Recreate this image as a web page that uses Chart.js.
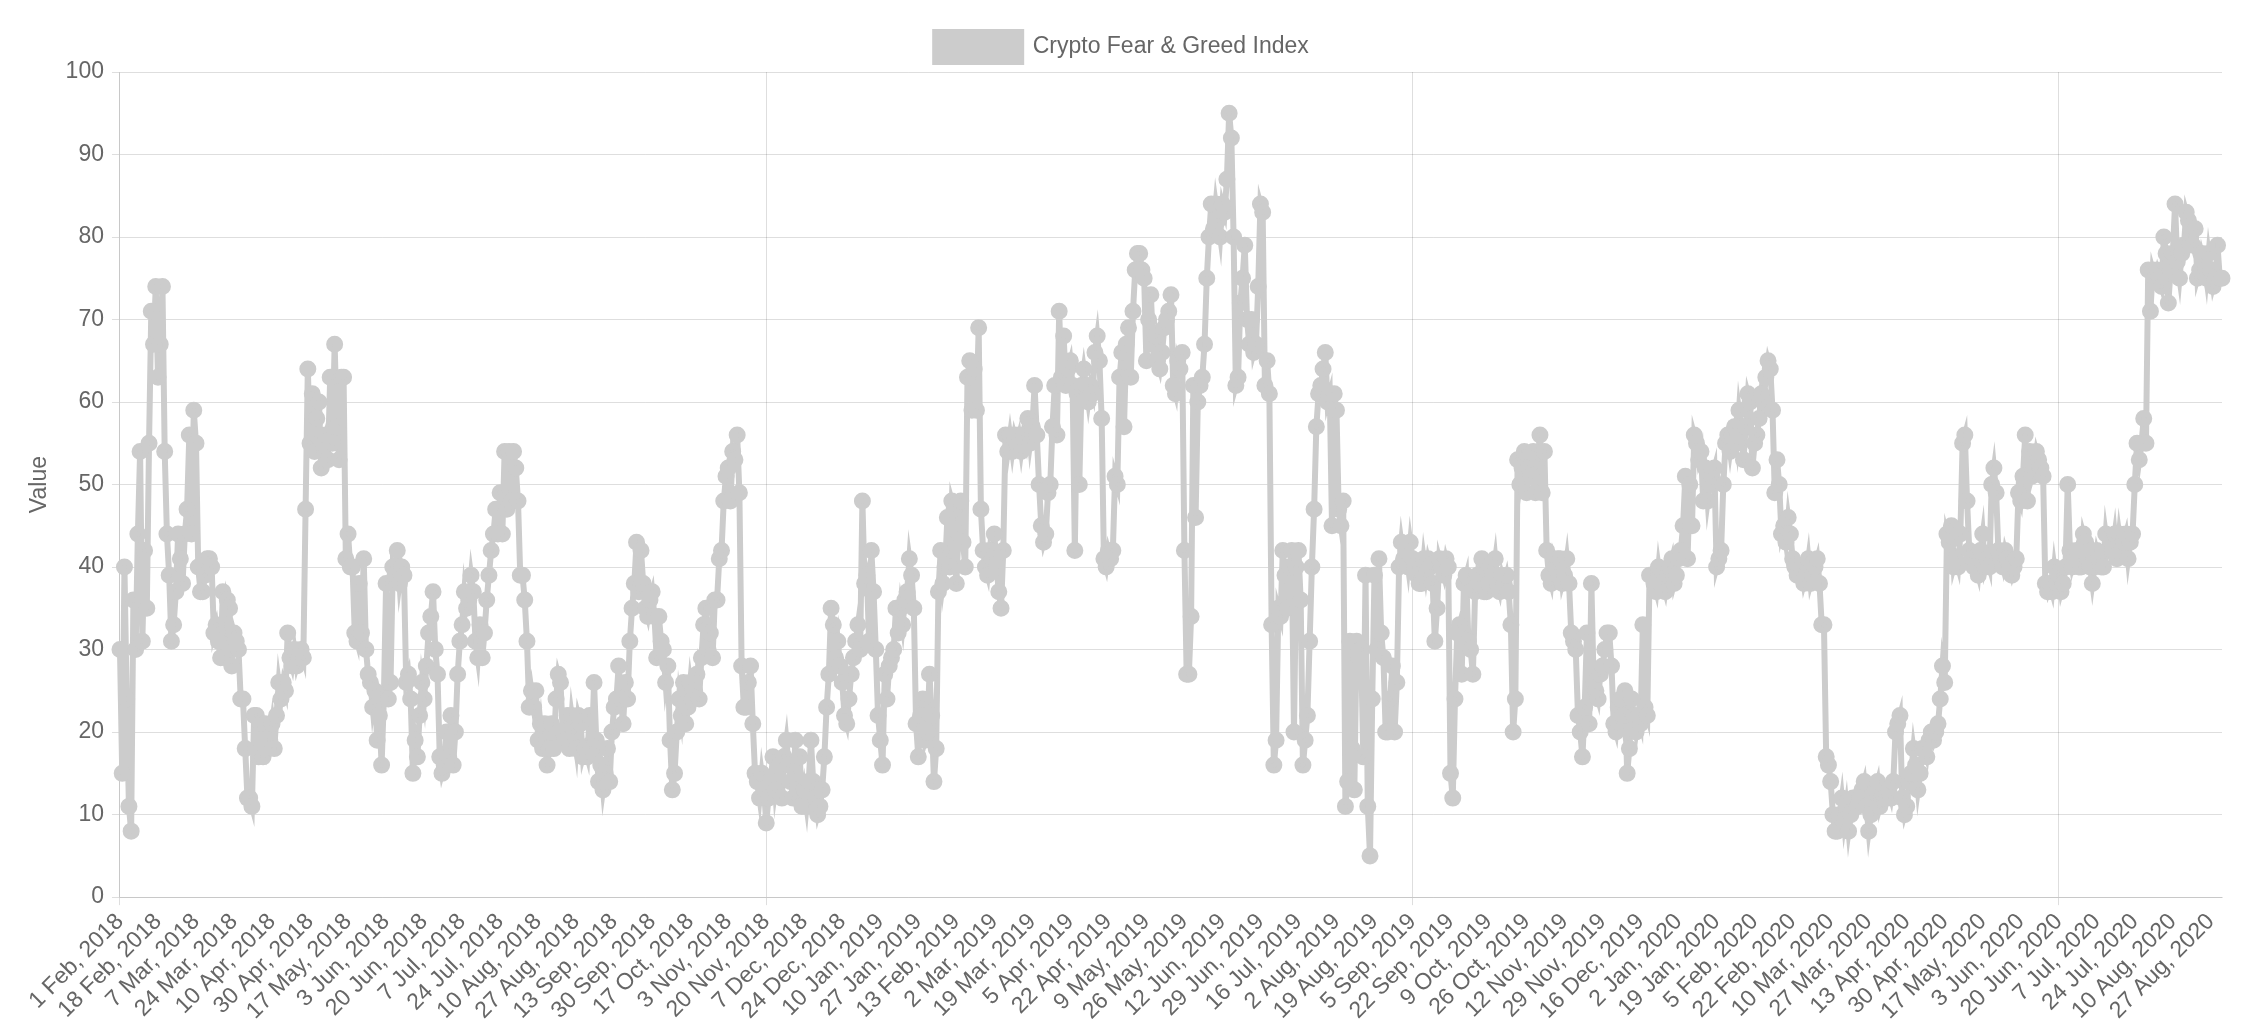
<!DOCTYPE html>
<html>
<head>
<meta charset="utf-8">
<script src="https://cdn.jsdelivr.net/npm/chart.js@4/dist/chart.umd.min.js"></script>
<style>
  html, body { margin: 0; padding: 0; background: #fff; }
  #wrap { width: 2268px; height: 1028px; }
</style>
</head>
<body>
<div id="wrap"><canvas id="myChart"></canvas></div>
<script>
// daily index values, 1 Feb 2018 .. 1 Sep 2020 (14-16 Apr 2018 missing)
const values = [
  30,15,40,24,11,8,36,30,44,54,31,42,35,55,71,67,74,
  63,67,74,54,44,39,31,33,37,44,41,38,44,47,56,44,59,
  55,40,37,37,39,41,41,40,32,33,31,29,37,29,36,35,28,
  32,31,30,24,24,18,12,12,11,22,22,17,21,17,21,18,19,
  21,18,22,26,24,26,25,32,29,28,30,28,29,30,29,47,64,
  55,61,54,58,60,52,55,56,53,63,55,67,57,53,63,63,41,
  44,40,40,32,31,38,32,41,30,27,26,23,25,19,22,16,24,
  38,24,26,40,39,42,38,40,39,26,27,24,15,19,17,22,26,
  24,28,32,34,37,30,27,17,15,16,20,17,22,16,20,27,31,
  33,37,35,36,39,37,31,29,33,29,32,36,39,42,44,47,44,
  49,44,54,47,54,48,54,52,48,39,39,36,31,23,25,23,25,
  19,21,18,21,16,18,21,18,24,27,26,20,19,22,18,22,20,
  18,22,21,17,18,17,22,18,26,19,14,16,13,15,18,14,20,
  23,24,28,24,21,26,24,31,35,38,43,37,42,38,35,34,36,
  37,34,29,34,31,30,26,28,19,13,15,20,24,22,26,21,23,
  26,24,25,27,24,29,33,35,30,32,29,36,36,41,42,48,51,
  52,48,54,53,56,49,28,23,23,26,28,21,15,14,12,15,13,
  9,12,14,17,13,15,16,12,17,19,16,14,12,19,13,17,11,
  13,11,14,19,14,12,10,11,13,17,23,27,35,33,29,31,28,
  26,22,21,24,27,29,31,33,30,48,38,39,31,42,37,30,22,
  19,16,27,24,28,29,30,35,32,35,33,36,37,41,39,35,21,
  17,22,24,19,20,27,22,14,18,37,42,38,40,46,40,48,47,
  38,44,48,43,40,63,65,59,64,59,69,47,42,40,39,42,41,
  44,40,37,35,42,56,54,56,54,56,55,56,54,56,55,58,55,
  57,62,56,50,45,43,44,49,50,57,62,56,71,63,68,62,64,
  65,62,42,61,50,62,64,62,60,62,61,66,68,65,58,41,40,
  42,41,42,51,50,63,66,57,67,69,63,71,76,78,78,76,75,
  65,70,73,67,68,65,64,66,69,70,71,73,62,61,65,64,66,
  42,27,27,34,62,46,60,62,63,67,75,80,84,81,84,82,80,
  84,83,87,95,92,80,62,63,72,75,79,70,67,70,66,67,74,
  84,83,62,65,61,33,16,19,35,34,42,39,35,40,42,20,40,
  42,36,16,19,22,31,40,47,57,61,62,64,66,60,61,45,61,
  59,47,45,48,11,14,31,18,13,31,29,30,17,39,11,5,24,
  39,30,41,32,29,20,20,24,28,20,26,40,43,41,42,40,43,
  41,40,39,38,38,41,39,41,40,38,31,35,41,40,39,41,40,
  15,12,24,32,33,27,38,39,31,30,27,37,39,38,41,37,37,
  38,40,39,41,38,37,39,38,39,37,33,20,24,53,50,52,54,
  49,52,51,54,49,53,56,49,54,42,39,38,41,40,41,41,38,
  39,41,38,32,31,30,22,20,17,23,32,21,38,26,25,24,27,
  28,30,32,32,28,21,20,23,24,22,25,15,18,24,22,20,22,
  21,33,23,22,39,39,38,37,40,38,38,37,39,40,41,38,39,
  41,42,45,51,41,50,45,56,55,53,54,48,52,48,50,51,52,
  40,41,42,50,55,56,54,56,57,55,59,57,53,57,61,60,52,
  55,56,58,61,60,63,65,64,59,49,53,50,44,45,43,46,44,
  41,40,39,39,40,38,39,41,38,39,40,41,38,33,33,17,16,
  14,10,8,8,10,12,9,11,8,10,12,12,11,12,13,14,11,
  8,10,12,13,14,11,12,12,12,13,12,14,20,21,22,12,10,
  11,14,15,18,16,13,15,18,18,17,19,20,19,20,21,24,28,
  26,44,43,45,40,41,40,44,55,56,48,42,41,40,40,39,42,
  44,40,41,40,50,52,49,42,41,40,42,41,40,39,40,41,49,
  48,51,56,48,54,51,52,54,53,52,51,38,37,38,37,40,38,
  39,37,38,40,50,42,40,41,42,40,40,44,43,41,40,38,40,
  42,41,40,40,44,42,43,42,44,41,44,42,43,44,41,43,44,
  50,55,53,55,58,55,76,71,76,75,76,75,74,80,78,72,76,
  78,84,77,75,78,79,83,82,80,79,81,75,76,78,77,75,78,
  76,74,75,79,75,75
];
const monthNames = ['Jan','Feb','Mar','Apr','May','Jun','Jul','Aug','Sep','Oct','Nov','Dec'];
const missingDays = ['2018-04-14','2018-04-15','2018-04-16'];
const labelStep = 17;

// build the date labels
const labels = [];
const d = new Date(Date.UTC(2018, 1, 1));
while (labels.length < values.length) {
    const iso = d.toISOString().slice(0, 10);
    if (!missingDays.includes(iso)) {
        labels.push(d.getUTCDate() + ' ' + monthNames[d.getUTCMonth()] + ', ' + d.getUTCFullYear());
    }
    d.setUTCDate(d.getUTCDate() + 1);
}

const grey = 'rgb(204, 204, 204)';
const gridColor = 'rgba(0,0,0,0.13)';
Chart.defaults.font.family = '"Liberation Sans", Arial, sans-serif';
Chart.defaults.color = '#666';

const ctx = document.getElementById('myChart').getContext('2d');
const myChart = new Chart(ctx, {
    type: 'line',
    data: {
        labels: labels,
        datasets: [{
            label: 'Crypto Fear & Greed Index',
            data: values,
            borderColor: grey,
            backgroundColor: grey,
            pointBackgroundColor: grey,
            pointBorderColor: grey,
            borderWidth: 6,
            pointRadius: 5.5,
            tension: 0,
            fill: false
        }]
    },
    options: {
        responsive: true,
        maintainAspectRatio: false,
        animation: false,
        layout: { padding: { left: 22, right: 46, top: 14, bottom: 0 } },
        plugins: {
            legend: {
                labels: { font: { size: 23 }, boxWidth: 86, boxHeight: 30, padding: 18 }
            },
            tooltip: { enabled: false }
        },
        scales: {
            x: {
                grid: {
                    color: c => (c.index % labelStep === 0 ? gridColor : 'rgba(0,0,0,0)'),
                    tickColor: c => (c.index % labelStep === 0 ? gridColor : 'rgba(0,0,0,0)')
                },
                ticks: {
                    autoSkip: false,
                    maxRotation: 45,
                    minRotation: 45,
                    font: { size: 23 },
                    callback: function(val, index) {
                        return index % labelStep === 0 ? this.getLabelForValue(val) : null;
                    }
                }
            },
            y: {
                min: 0,
                max: 100,
                ticks: { stepSize: 10, font: { size: 23 }, padding: 8 },
                grid: { color: gridColor },
                title: { display: true, text: 'Value', font: { size: 23 } }
            }
        }
    }
});
</script>
</body>
</html>
